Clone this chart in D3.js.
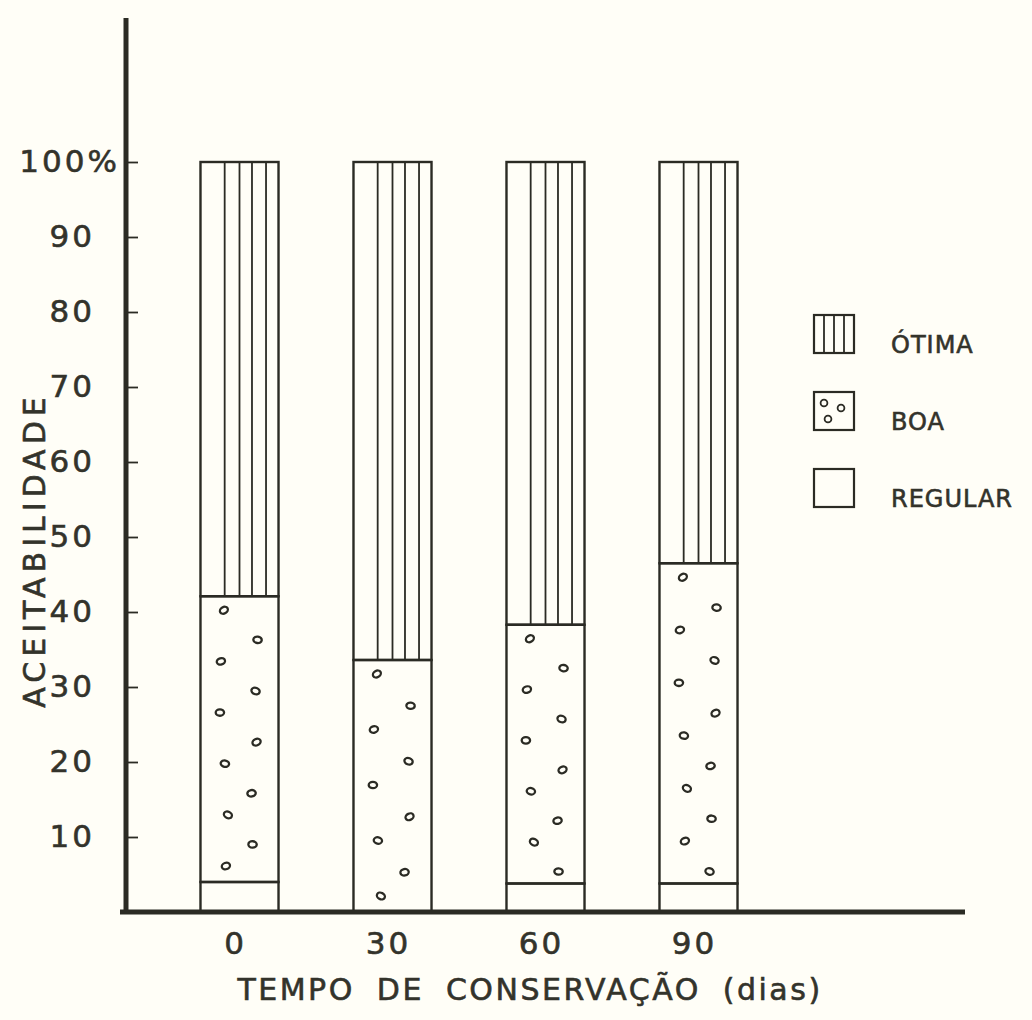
<!DOCTYPE html>
<html>
<head>
<meta charset="utf-8">
<script src="https://cdn.jsdelivr.net/npm/d3@7"></script>
<style>
  body { margin: 0; background: #fffef7; }
  text { font-family: "DejaVu Sans", sans-serif; fill: #33332b; stroke: #33332b; stroke-width: 0.6px; }
</style>
</head>
<body>
<div id="chart"></div>
<script>
// data (percent of tasters)
var dias = ["0", "30", "60", "90"];
var regular = [4.0, 0, 3.8, 3.8];
var boa = [38.1, 33.6, 34.5, 42.7];
var otima = [57.9, 66.4, 61.7, 53.5];
var yTicks = [10, 20, 30, 40, 50, 60, 70, 80, 90, 100];

var ink = "#2b2b24";
var W = 1032, H = 1020;

var svg = d3.select("#chart").append("svg")
    .attr("width", W)
    .attr("height", H);

svg.append("rect").attr("width", W).attr("height", H).attr("fill", "#fffef7");

// scales
var x = d3.scaleBand().domain(dias).range([163, 775])
    .paddingInner(0.49).paddingOuter(0.245);
var y = d3.scaleLinear().domain([0, 100]).range([912, 162]);

// stack the three series
var rows = dias.map(function(d, i) {
  return {dia: d, regular: regular[i], boa: boa[i], otima: otima[i]};
});
var stack = d3.stack().keys(["regular", "boa", "otima"])(rows);

var g = svg.append("g");

stack.forEach(function(layer) {
  layer.forEach(function(s) {
    var dia = s.data.dia;
    var x0 = x(dia), bw = x.bandwidth();
    var top = y(s[1]), bot = y(s[0]);
    if (s[1] - s[0] <= 0) return;
    g.append("rect")
      .attr("x", x0).attr("y", top)
      .attr("width", bw).attr("height", bot - top)
      .attr("fill", "none").attr("stroke", ink).attr("stroke-width", 2.4);

    if (layer.key === "otima") {
      // vertical hatching
      [0.31, 0.5, 0.66, 0.84].forEach(function(f) {
        g.append("line")
          .attr("x1", x0 + bw * f).attr("x2", x0 + bw * f)
          .attr("y1", top).attr("y2", bot)
          .attr("stroke", ink).attr("stroke-width", 1.8);
      });
    }
    if (layer.key === "boa") {
      // little hand drawn circles, two staggered columns
      var n = Math.round((bot - top) / 27);
      var step = (bot - top - 30) / (n - 1);
      var jit = [0, 4, -3, 2, -4, 3, 1, -2, 4, -1, 2, -3];
      for (var k = 0; k < n; k++) {
        var left = k % 2 === 0;
        var cx = x0 + bw * (left ? 0.3 : 0.68) + jit[k % jit.length];
        var cy = top + 14 + k * step + (left ? 0 : 4);
        g.append("ellipse")
          .attr("cx", cx).attr("cy", cy)
          .attr("rx", 4.2).attr("ry", 3.2)
          .attr("transform", "rotate(" + (k * 37 % 60 - 30) + "," + cx + "," + cy + ")")
          .attr("fill", "none").attr("stroke", ink).attr("stroke-width", 2.3);
      }
    }
  });
});

// y axis with ticks pointing inward
var yAxis = svg.append("g")
    .attr("transform", "translate(126,0)")
    .call(d3.axisLeft(y).tickValues(yTicks).tickSize(-12).tickPadding(31));
yAxis.select(".domain").remove();
yAxis.selectAll(".tick line").attr("stroke", ink).attr("stroke-width", 1.8);
yAxis.selectAll(".tick text")
    .style("font-size", "31px")
    .style("letter-spacing", "3px")
    .text(function(d) { return d === 100 ? "100%" : d; })
    .attr("x", function(d) { return d === 100 ? -6 : -31; });

svg.append("line")
    .attr("x1", 126).attr("x2", 126).attr("y1", 18).attr("y2", 914)
    .attr("stroke", ink).attr("stroke-width", 5);

// x axis
var xAxis = svg.append("g")
    .attr("transform", "translate(0,912)")
    .call(d3.axisBottom(x).tickSize(0).tickPadding(20));
xAxis.select(".domain").remove();
xAxis.selectAll(".tick text")
    .style("font-size", "31px")
    .style("letter-spacing", "3px")
    .attr("x", -4);

svg.append("line")
    .attr("x1", 120).attr("x2", 965).attr("y1", 912).attr("y2", 912)
    .attr("stroke", ink).attr("stroke-width", 5);

// axis titles
svg.append("text")
    .attr("x", 530).attr("y", 1000)
    .attr("text-anchor", "middle")
    .style("font-size", "30px")
    .style("letter-spacing", "2.5px")
    .style("word-spacing", "10px")
    .text("TEMPO DE CONSERVAÇÃO (dias)");

svg.append("text")
    .attr("transform", "translate(45,550) rotate(-90)")
    .attr("text-anchor", "middle")
    .style("font-size", "30px")
    .style("letter-spacing", "5px")
    .text("ACEITABILIDADE");

// legend
var legend = [
  {key: "otima", label: "ÓTIMA"},
  {key: "boa", label: "BOA"},
  {key: "regular", label: "REGULAR"}
];
legend.forEach(function(d, i) {
  var ly = 315 + i * 77;
  var lg = svg.append("g").attr("transform", "translate(814," + ly + ")");
  lg.append("rect").attr("width", 40).attr("height", 38)
    .attr("fill", "none").attr("stroke", ink).attr("stroke-width", 2.2);
  if (d.key === "otima") {
    [10, 20, 30].forEach(function(lx) {
      lg.append("line").attr("x1", lx).attr("x2", lx).attr("y1", 0).attr("y2", 38)
        .attr("stroke", ink).attr("stroke-width", 1.8);
    });
  }
  if (d.key === "boa") {
    [[10, 11], [27, 16], [14, 27]].forEach(function(p) {
      lg.append("circle").attr("cx", p[0]).attr("cy", p[1]).attr("r", 3.4)
        .attr("fill", "none").attr("stroke", ink).attr("stroke-width", 1.8);
    });
  }
  lg.append("text").attr("x", 77).attr("y", 38)
    .style("font-size", "24px")
    .style("letter-spacing", "1px")
    .text(d.label);
});
</script>
</body>
</html>
